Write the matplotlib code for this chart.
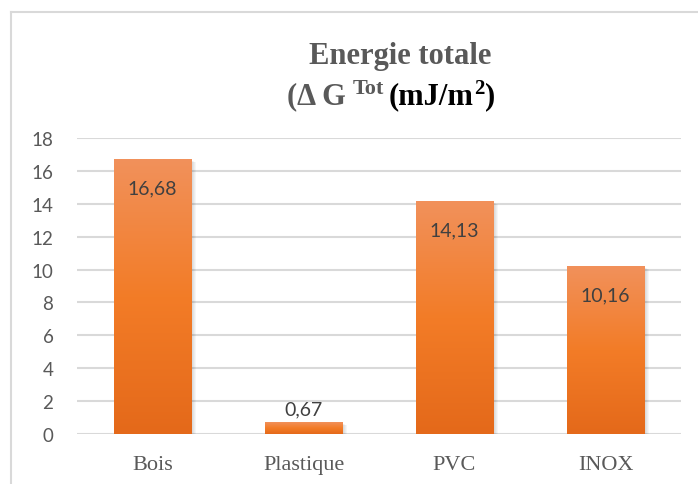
import numpy as np
import matplotlib
matplotlib.use("Agg")
import matplotlib.pyplot as plt
from matplotlib.colors import LinearSegmentedColormap
from matplotlib.lines import Line2D
from matplotlib.transforms import ScaledTranslation

# Energie totale par matériau
materiaux = ["Bois", "Plastique", "PVC", "INOX"]
energie = [16.68, 0.67, 14.13, 10.16]
etiquettes = ["16,68", "0,67", "14,13", "10,16"]
graduations = [0, 2, 4, 6, 8, 10, 12, 14, 16, 18]

GRIS = "#595959"
GRILLE = "#D9D9D9"
degrade = LinearSegmentedColormap.from_list(
    "orange", ["#E4691A", "#F37C27", "#F1915B"])

fig = plt.figure(figsize=(6.98, 4.85), dpi=100)
ax = fig.add_axes([77 / 698, 50 / 485, 604 / 698, 296 / 485])

x = np.arange(len(materiaux))
largeur = 0.51

# ombre douce à droite des barres
for k in range(1, 6):
    decal = ScaledTranslation(k / 100, -k / 200, fig.dpi_scale_trans)
    ax.bar(x, energie, width=largeur, color="black", alpha=0.035,
           transform=ax.transData + decal, zorder=2)

barres = ax.bar(x, energie, width=largeur, color="none", zorder=3)
grad = np.linspace(0, 1, 256).reshape(-1, 1)
for b in barres:
    x0, y0 = b.get_x(), b.get_y()
    ax.imshow(grad, cmap=degrade, origin="lower", aspect="auto",
              extent=(x0, x0 + b.get_width(), y0, y0 + b.get_height()),
              zorder=3)

for xi, v, txt in zip(x, energie, etiquettes):
    dy = -20 if v > 2 else 10
    ax.annotate(txt, xy=(xi, v), xytext=(0, dy), textcoords="offset points",
                ha="center", va="center", fontsize=14, family="Lato",
                color="#404040", zorder=5)

ax.set_xlim(-0.5, len(materiaux) - 0.5)
ax.set_ylim(0, 18)
ax.set_yticks(graduations)
ax.set_yticklabels([str(g) for g in graduations], family="Lato",
                   fontsize=13.5, color=GRIS)
ax.set_xticks(x)
ax.set_xticklabels(materiaux, family="Liberation Serif", fontsize=16,
                   color=GRIS)
ax.tick_params(axis="y", length=0, pad=17)
ax.tick_params(axis="x", length=0, pad=15)
ax.grid(axis="y", color=GRILLE, linewidth=1.5, zorder=0)
ax.set_axisbelow(True)
for s in ax.spines.values():
    s.set_visible(False)

# titre sur deux lignes
serif = dict(family="Liberation Serif", fontweight="bold")
fig.text(400 / 698, (485 - 64) / 485, "Energie totale", ha="center",
         va="baseline", fontsize=22, color=GRIS, **serif)
ligne2 = (485 - 104) / 485


def suite(prec, texte, dx, dy, taille, couleur):
    # place un morceau de texte juste après le précédent sur la ligne
    return ax.annotate(texte, xy=(1, ligne2),
                       xycoords=(prec, "figure fraction"),
                       xytext=(dx, dy), textcoords="offset points",
                       ha="left", va="baseline", fontsize=taille,
                       color=couleur, annotation_clip=False, **serif)


t1 = fig.text(287 / 698, ligne2, "(Δ G", ha="left", va="baseline",
              fontsize=22, color=GRIS, **serif)
t2 = suite(t1, "Tot", 5, 7, 16, GRIS)
t3 = suite(t2, "(mJ/m", 3, 0, 22, "black")
t4 = suite(t3, "2", 0.5, 7, 15, "black")
suite(t4, ")", 0.5, 0, 22, "black")

# cadre du graphique
fig.add_artist(Line2D([11 / 698, 11 / 698], [0, (485 - 13) / 485],
                      color=GRILLE, linewidth=1.5))
fig.add_artist(Line2D([11 / 698, 1], [(485 - 13) / 485] * 2,
                      color=GRILLE, linewidth=1.5))

fig.savefig("out.png", dpi=100)
